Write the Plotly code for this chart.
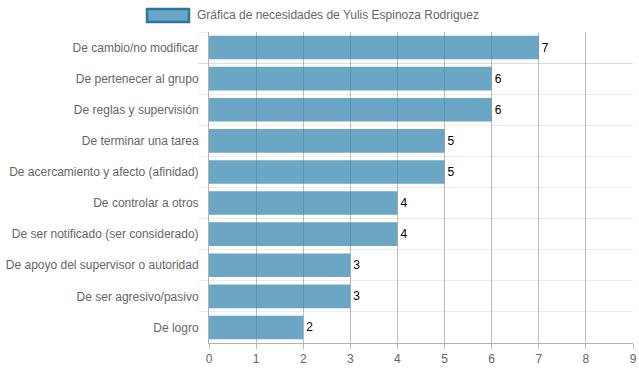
import plotly.graph_objects as go

categories = [
    "De cambio/no modificar",
    "De pertenecer al grupo",
    "De reglas y supervisión",
    "De terminar una tarea",
    "De acercamiento y afecto (afinidad)",
    "De controlar a otros",
    "De ser notificado (ser considerado)",
    "De apoyo del supervisor o autoridad",
    "De ser agresivo/pasivo",
    "De logro",
]
values = [7, 6, 6, 5, 5, 4, 4, 3, 3, 2]
x_ticks = list(range(0, 10))
series_name = "Gráfica de necesidades de Yulis Espinoza Rodriguez"

FONT = "Liberation Sans, Arial, Helvetica, sans-serif"
BAR_FILL = "rgba(44,128,172,0.70)"
BAR_LINE = "rgba(44,118,160,1)"

fig = go.Figure()
fig.add_trace(go.Bar(
    x=values,
    y=categories,
    orientation="h",
    marker=dict(color=BAR_FILL, line=dict(width=0)),
    text=[str(v) for v in values],
    textposition="outside",
    textfont=dict(color="#000", size=12, family=FONT),
    cliponaxis=False,
    name=series_name,
    showlegend=False,
))

W, H = 639, 372
ml, mr, mt, mb = 209, 6, 32, 29
pw, ph = W - ml - mr, H - mt - mb

def px_x(p):
    return (p - ml) / pw

def px_y(p):
    return 1 - (p - mt) / ph

# custom legend (wide box + label)
fig.add_shape(type="rect", xref="paper", yref="paper",
              x0=px_x(147), x1=px_x(189), y0=px_y(9), y1=px_y(22),
              fillcolor=BAR_FILL, line=dict(color=BAR_LINE, width=2.5))
fig.add_annotation(xref="paper", yref="paper", x=px_x(195), y=px_y(15.5),
                   text=series_name, showarrow=False, xanchor="left", yanchor="middle",
                   font=dict(size=12, color="#666", family=FONT))

fig.update_layout(
    width=W, height=H, autosize=False,
    margin=dict(l=ml, r=mr, t=mt, b=mb, pad=0, autoexpand=False),
    paper_bgcolor="white", plot_bgcolor="white",
    bargap=0.24,
    font=dict(family=FONT, size=12, color="#666"),
    showlegend=False,
)
fig.update_xaxes(
    range=[0, 9], tickvals=x_ticks, ticktext=[str(t) for t in x_ticks],
    showgrid=True, gridcolor="rgba(0,0,0,0.25)", gridwidth=1,
    ticks="outside", ticklen=5, tickcolor="rgba(0,0,0,0.25)",
    showline=True, linecolor="rgba(0,0,0,0.3)", linewidth=1,
    zeroline=False, mirror=False, automargin=False,
    tickfont=dict(size=12, color="#666", family=FONT),
)
fig.update_yaxes(
    autorange="reversed", type="category",
    tickson="boundaries", showgrid=True, gridcolor="rgba(0,0,0,0.07)", gridwidth=1,
    ticks="outside", ticklen=10, tickcolor="rgba(0,0,0,0.07)",
    ticklabelstandoff=7, automargin=False,
    showline=True, linecolor="rgba(0,0,0,0.3)", linewidth=1,
    zeroline=False,
    tickfont=dict(size=12, color="#666", family=FONT),
)

fig.write_html(
    "out.html",
    config={"displayModeBar": False, "responsive": False},
    post_script="document.body.style.margin='0';document.body.style.overflow='hidden';document.documentElement.style.overflow='hidden';",
)
